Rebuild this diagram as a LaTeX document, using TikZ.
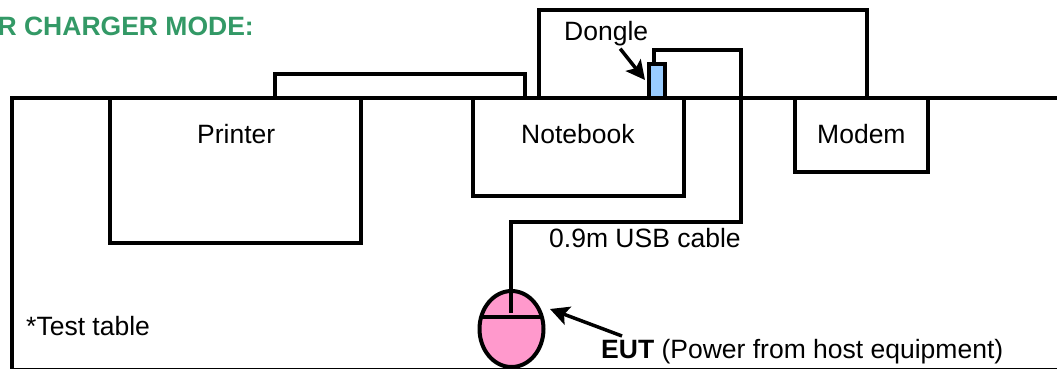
\documentclass[tikz,border=0pt]{standalone}
\usepackage{fontspec}
\setmainfont{Liberation Sans}
\usetikzlibrary{arrows.meta,shapes.geometric}
\definecolor{titlegreen}{HTML}{339966}
\definecolor{dongleblue}{HTML}{99CCFF}
\definecolor{mousepink}{HTML}{FF99CC}
\tikzset{
    devbox/.style={draw,line width=4pt,inner sep=0pt,outer sep=0pt},
    wire/.style={line width=4pt,line join=miter},
    pointer/.style={-{Stealth[length=19pt,width=19pt,inset=4pt]},line width=3.5pt},
    caption/.style={anchor=base west,inner sep=0pt,font=\fontsize{26.5}{30}\selectfont}
}
\begin{document}
\begin{tikzpicture}[x=1pt,y=-1pt]
            \useasboundingbox (0,0) rectangle (1057,369);
            \node [caption,anchor=base east,text=titlegreen,font=\fontsize{26.5}{30}\selectfont\bfseries] (title) at(254,35.5) {R CHARGER MODE:};

            % Table
            \node [devbox,minimum width=1060,minimum height=272,anchor=north west] (table) at(12,98) {};

            % Devices
            \node [devbox,minimum width=251,minimum height=145,anchor=north west] (printer) at(110,98) {};
            \node [devbox,minimum width=211,minimum height=98,anchor=north west] (notebook) at(473,98) {};
            \node [devbox,minimum width=133,minimum height=74,anchor=north west] (modem) at(795,98) {};
            \node [devbox,fill=dongleblue,minimum width=16,minimum height=34,anchor=south] (dongle) at(657,98) {};
            \node [devbox,fill=mousepink,ellipse,minimum width=64,minimum height=76] (mouse) at(511.5,329) {};

            \coordinate (printerport) at(275,98);
            \coordinate (notebookleft) at(525,98);
            \coordinate (notebookright) at(539,98);
            \coordinate (modemport) at(867,98);
            \coordinate (dongleport) at(654,64);
            \coordinate (wheel) at(511,313);
            \coordinate (splitleft) at(482,317);
            \coordinate (splitright) at(541,317);

            % Cables
            \draw [wire] (printerport)--(275,74)--(525,74)--(notebookleft);
            \draw [wire] (notebookright)--(539,10)--(867,10)--(modemport);
            \draw [wire] (dongleport)--(654,50)--(741,50)--(741,222)--(511,222)--(wheel);
            \draw [wire] (splitleft)--(splitright);

            % Labels
            \node [caption] (printerlabel) at(197,143) {Printer};
            \node [caption] (notebooklabel) at(521,143) {Notebook};
            \node [caption] (modemlabel) at(817,143) {Modem};
            \node [caption] (donglelabel) at(564,41) {Dongle};
            \node [caption] (usblabel) at(549,247) {0.9m USB cable};
            \node [caption] (tablelabel) at(26,335) {*Test table};
            \node [caption] (eutlabel) at(601,358) {\textbf{EUT} (Power from host equipment)};

            \coordinate (dongletip) at(645,80);
            \coordinate (eutstart) at(622,336);
            \coordinate (euttip) at(550,309);
            \draw [pointer] (donglelabel.south)++(14,2)--(dongletip);
            \draw [pointer] (eutstart)--(euttip);
        \end{tikzpicture}
\end{document}
